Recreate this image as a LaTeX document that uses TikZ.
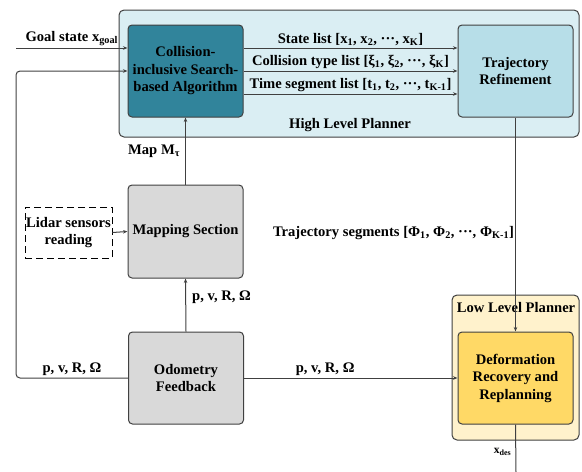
\documentclass[tikz,border=0pt]{standalone}
\usepackage{fontspec}
\setmainfont{Liberation Serif}
\usetikzlibrary{arrows.meta}
\definecolor{linegray}{HTML}{404040}
\definecolor{hlpblue}{HTML}{DAEEF3}
\definecolor{tealblue}{HTML}{31849B}
\definecolor{refineblue}{HTML}{B7DEE8}
\definecolor{boxgray}{HTML}{D9D9D9}
\definecolor{llpyellow}{HTML}{FFF2CC}
\definecolor{deformyellow}{HTML}{FFD966}
\newcommand{\lowtxt}[1]{\textsubscript{#1}}
\newcommand{\tridots}{···}

\begin{document}
\begin{tikzpicture}[x=1pt, y=-1pt, >={Stealth[length=4.5pt,width=3.5pt]},
    font=\fontsize{14.6}{17.5}\selectfont\bfseries,
    block/.style={draw=linegray, line width=1pt, rounded corners=4pt, align=center,
        minimum width=115pt, minimum height=92pt, inner sep=1pt},
    frame/.style={draw=linegray, line width=1pt, rounded corners=5pt},
    wire/.style={draw=linegray, line width=1pt}]
    \useasboundingbox (0,0) rectangle (582,472);

    % planner frames
    \draw [frame, fill=hlpblue] (119,10) rectangle (579,137);
    \draw [frame, fill=llpyellow] (452,295) rectangle (579,440);
    \node (hlplabel) at (350,125) {High Level Planner};
    \node (llplabel) at (516,308) {Low Level Planner};

    % blocks
    \node [block, fill=tealblue] (search) at (185.5,71) {Collision-\\inclusive Search-\\based Algorithm};
    \node [block, fill=refineblue] (refine) at (515.5,71) {Trajectory\\Refinement};
    \node [block, fill=boxgray, minimum height=93pt] (mapping) at (185.5,231.5) {Mapping Section};
    \node [block, fill=boxgray] (odom) at (186,378) {Odometry\\Feedback};
    \node [block, fill=deformyellow] (deform) at (515.5,378) {Deformation\\Recovery and\\Replanning};
    \node [draw=black, line width=0.8pt, dash pattern=on 7pt off 4pt, minimum width=87pt, minimum height=51pt,
        align=center, inner sep=0pt] (lidar) at (68.5,232.5) {Lidar sensors\\reading};

    % inputs
    \coordinate (goal) at (16,48);
    \draw [wire, ->] (goal) -- node [above, inner sep=2pt] {Goal state x\lowtxt{goal}} (goal -| search.west);
    \draw [wire, ->] (lidar.east) -- (mapping.west);

    % search -> refinement
    \foreach \dy/\txt in {23/{State list [x\lowtxt{1}, x\lowtxt{2}, \tridots, x\lowtxt{K}]},
                          0/{Collision type list [ξ\lowtxt{1}, ξ\lowtxt{2}, \tridots, ξ\lowtxt{K}]},
                          -23/{Time segment list [t\lowtxt{1}, t\lowtxt{2}, \tridots, t\lowtxt{K-1}]}}{
        \draw [wire, ->] ([yshift=\dy pt]search.east) -- node [above, inner sep=2pt] {\txt} ([yshift=\dy pt]refine.west);
    }

    % feedback
    \draw [wire, ->, rounded corners=4pt] (odom.west) -- node [above, inner sep=2pt] {p, v, R, Ω} (16,378)
        -- (16,71) -- (search.west);
    \draw [wire, ->] (odom.north) -- node [pos=0.65, right, inner sep=6pt] {p, v, R, Ω} (mapping.south);
    \draw [wire, ->] (mapping.north) -- node [left, inner sep=5pt] {Map M\lowtxt{τ}} (search.south);
    \draw [wire, ->] (odom.east) -- node [pos=0.38, above, inner sep=2pt] {p, v, R, Ω} (deform.west);

    % low level
    \draw [wire, ->] (refine.south) -- node [pos=0.54, left, inner sep=1pt]
        {Trajectory segments [Φ\lowtxt{1}, Φ\lowtxt{2}, \tridots, Φ\lowtxt{K-1}]} (deform.north);
    \coordinate (out) at (516,472);
    \draw [wire] (deform.south) -- node [pos=0.58, left, inner sep=4pt, font=\fontsize{11.5}{13}\selectfont\bfseries]
        {x\lowtxt{des}} (out);
\end{tikzpicture}
\end{document}
